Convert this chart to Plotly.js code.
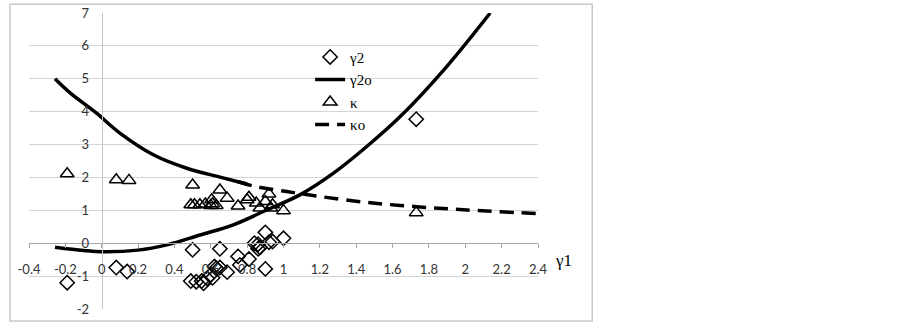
<!DOCTYPE html>
<html>
<head>
<meta charset="utf-8">
<script src="https://cdn.plot.ly/plotly-3.0.1.min.js"></script>
<style>html,body{margin:0;padding:0;background:#fff;}#chart{width:903px;height:325px;}</style>
</head>
<body>
<div id="chart"></div>
<script>
// γ2 observations (diamonds)
const g2_x = [-0.19, 0.08, 0.14, 0.49, 0.52, 0.55, 0.56, 0.58, 0.60, 0.61, 0.62, 0.63, 0.65, 0.50, 0.65, 0.69, 0.75, 0.76, 0.81, 0.84, 0.86, 0.87, 0.86, 0.90, 0.92, 0.94, 0.90, 1.00, 1.73];
const g2_y = [-1.20, -0.74, -0.86, -1.15, -1.17, -1.15, -1.22, -1.07, -0.96, -1.05, -0.71, -0.76, -0.74, -0.20, -0.17, -0.88, -0.40, -0.66, -0.48, 0.00, -0.03, -0.13, -0.17, 0.33, 0.03, 0.05, -0.78, 0.15, 3.77];
// κ observations (triangles)
const k_x = [-0.19, 0.08, 0.15, 0.50, 0.49, 0.51, 0.54, 0.57, 0.60, 0.61, 0.63, 0.605, 0.65, 0.69, 0.75, 0.80, 0.81, 0.85, 0.87, 0.90, 0.92, 0.93, 0.94, 1.00, 1.73];
const k_y = [2.11, 1.93, 1.91, 1.77, 1.17, 1.17, 1.17, 1.19, 1.15, 1.20, 1.15, 1.32, 1.62, 1.37, 1.13, 1.32, 1.40, 1.22, 1.07, 1.27, 1.50, 1.07, 1.17, 0.99, 0.93];
// γ2o curve: upper branch and lower (U-shaped) branch
const g2o_up_x = [-0.257, -0.174, -0.03, 0.10, 0.284, 0.468, 0.651, 0.75, 0.80];
const g2o_up_y = [5.00, 4.57, 3.96, 3.35, 2.69, 2.28, 2.01, 1.87, 1.80];
const g2o_lo_x = [-0.257, -0.10, 0.00, 0.20, 0.358, 0.541, 0.724, 0.908, 1.09, 1.275, 1.458, 1.642, 1.899, 2.137];
const g2o_lo_y = [-0.12, -0.22, -0.26, -0.21, -0.05, 0.25, 0.56, 1.01, 1.47, 2.13, 2.94, 3.85, 5.38, 7.00];
// κo curve (dashed)
const ko_x = [0.75, 0.834, 1.018, 1.20, 1.458, 1.733, 2.009, 2.40];
const ko_y = [1.87, 1.74, 1.57, 1.42, 1.24, 1.11, 1.01, 0.90];
// tick labels
const xTickVals = [-0.4, -0.2, 0, 0.2, 0.4, 0.6, 0.8, 1, 1.2, 1.4, 1.6, 1.8, 2, 2.2, 2.4];
const xTickText = ["-0.4", "-0.2", "0", "0.2", "0.4", "0.6", "0.8", "1", "1.2", "1.4", "1.6", "1.8", "2", "2.2", "2.4"];
const yTickVals = [-2, -1, 0, 1, 2, 3, 4, 5, 6, 7];
const yTickText = ["-2", "-1", "0", "1", "2", "3", "4", "5", "6", "7"];

const g2o_x = g2o_up_x.concat([null], g2o_lo_x);
const g2o_y = g2o_up_y.concat([null], g2o_lo_y);

const traces = [
  {x: g2_x, y: g2_y, type: 'scatter', mode: 'markers', name: 'γ2', legendgroup: 'a',
   marker: {symbol: 'diamond-open', size: 11, color: '#000', line: {width: 1.5, color: '#000'}}},
  {x: g2o_x, y: g2o_y, type: 'scatter', mode: 'lines', name: 'γ2o', legendgroup: 'b', connectgaps: false,
   line: {color: '#000', width: 3.5, shape: 'spline', smoothing: 1}},
  {x: k_x, y: k_y, type: 'scatter', mode: 'markers', name: 'κ', legendgroup: 'c',
   marker: {symbol: 'triangle-up-open', size: 12, color: '#000', line: {width: 1.5, color: '#000'}}},
  {x: ko_x, y: ko_y, type: 'scatter', mode: 'lines', name: 'κo', legendgroup: 'd',
   line: {color: '#000', width: 3.5, dash: '14px,8px', shape: 'spline', smoothing: 1}}
];

const L = 29, R = 537.8, T = 13.3, B = 309;
const W = R - L, H = B - T;
const px = v => (v - L) / W;
const py = v => (B - v) / H;

const layout = {
  width: 903, height: 325,
  margin: {l: L, r: 903 - R, t: T, b: 325 - B, pad: 0},
  paper_bgcolor: '#fff', plot_bgcolor: '#fff',
  showlegend: true,
  legend: {x: px(310), y: py(41), xanchor: 'left', yanchor: 'top',
           font: {family: 'Liberation Serif', size: 15, color: '#000'},
           bgcolor: 'rgba(0,0,0,0)', traceorder: 'grouped', tracegroupgap: 0},
  xaxis: {range: [-0.4, 2.4], tickvals: xTickVals, ticktext: xTickText,
          showgrid: false, zeroline: false, showline: true, linecolor: '#a6a6a6', linewidth: 1,
          ticks: 'outside', ticklen: 4, tickcolor: '#a6a6a6', tickwidth: 1,
          anchor: 'free', position: 2 / 9, ticklabelstandoff: 10,
          tickfont: {family: 'Lato', size: 13, color: '#333'}},
  yaxis: {range: [-2, 7], tickvals: yTickVals, ticktext: yTickText,
          showgrid: true, gridcolor: '#d4d4d4', gridwidth: 1, zeroline: false,
          showline: true, linecolor: '#c4c4c4', linewidth: 1, ticks: '',
          anchor: 'free', position: 0.4 / 2.8, ticklabelstandoff: 10,
          tickfont: {family: 'Lato', size: 13, color: '#333'}},
  shapes: [
    {type: 'rect', xref: 'paper', yref: 'paper', x0: px(10), x1: px(592), y0: py(321), y1: py(4.5),
     line: {color: '#c8c8c8', width: 1.5}, layer: 'below'}
  ],
  annotations: [
    {xref: 'paper', yref: 'paper', x: px(563), y: py(261), text: 'γ1', showarrow: false,
     font: {family: 'Liberation Serif', size: 17, color: '#000'}, xanchor: 'center', yanchor: 'middle'}
  ]
};

Plotly.newPlot('chart', traces, layout, {displayModeBar: false, staticPlot: true});
</script>
</body>
</html>
